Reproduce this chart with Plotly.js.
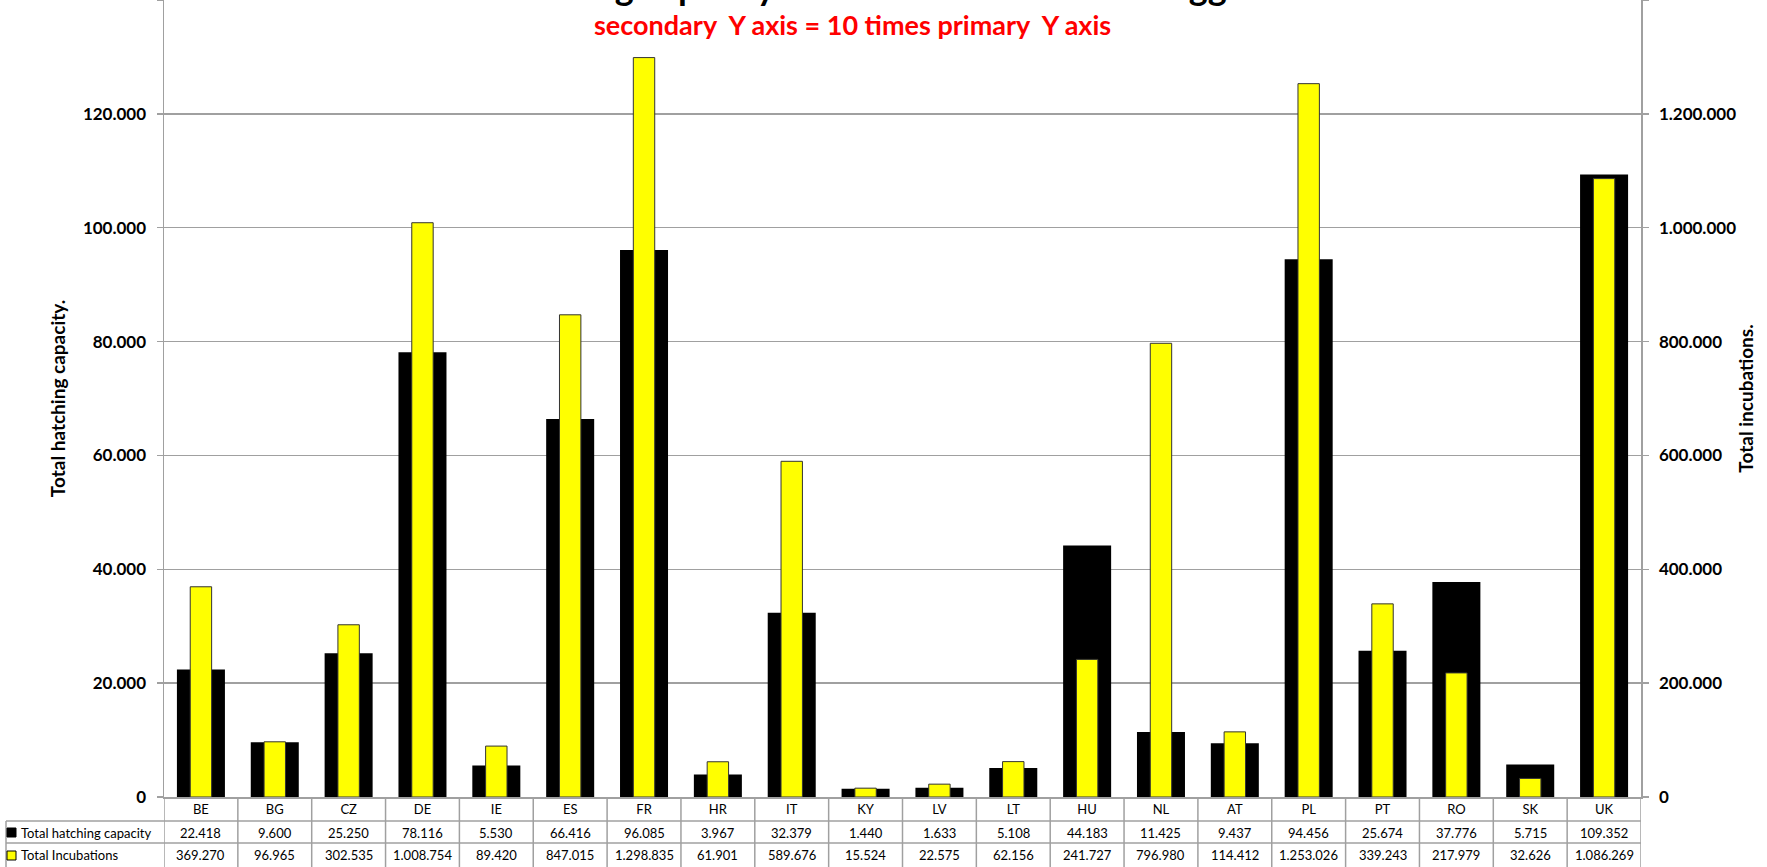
<!DOCTYPE html>
<html><head><meta charset="utf-8">
<script src="https://cdn.plot.ly/plotly-3.0.1.min.js"></script>
<style>html,body{margin:0;padding:0;background:#fff}#chart{width:1767px;height:867px}</style>
</head><body><div id="chart"></div>
<script>
const countries = ['BE','BG','CZ','DE','IE','ES','FR','HR','IT','KY','LV','LT','HU','NL','AT','PL','PT','RO','SK','UK'];
const hatchingCapacity = [22418,9600,25250,78116,5530,66416,96085,3967,32379,1440,1633,5108,44183,11425,9437,94456,25674,37776,5715,109352];
const totalIncubations = [369270,96965,302535,1008754,89420,847015,1298835,61901,589676,15524,22575,62156,241727,796980,114412,1253026,339243,217979,32626,1086269];
const seriesNames = ['Total hatching capacity','Total Incubations'];
const titleText = 'Hatching capacity and total incubations of eggs';
const subtitleText = 'secondary  Y axis = 10 times primary  Y axis';
const yTitle = 'Total hatching capacity.';
const y2Title = 'Total incubations.';

const W = 1767, H = 867, L = 164, R = 126, T = 0, B = 70;
const plotW = W - L - R, plotH = H - T - B;
const xp = px => (px - L) / plotW;
const yp = py => (T + plotH - py) / plotH;
const fmt = n => String(n).replace(/\B(?=(\d{3})+(?!\d))/g, '.');
const FONT = 'Lato, "Open Sans", sans-serif';
const GRID = '#a0a0a0';

const traces = [
  {type:'bar', name:seriesNames[0], x:countries, y:hatchingCapacity, yaxis:'y',
   marker:{color:'#000000', line:{width:0}}, width:0.65, offset:-0.325, hoverinfo:'skip'},
  {type:'bar', name:seriesNames[1], x:countries, y:totalIncubations, yaxis:'y2',
   marker:{color:'#ffff00', line:{color:'#333333', width:1}}, width:0.29, offset:-0.145, hoverinfo:'skip'}
];

const shapes = [];
const line = (xref, x0, x1, y0, y1) => shapes.push({type:'line', xref, yref:'paper', x0, x1, y0, y1, line:{color:GRID, width:1.5}, layer:'above'});
line('paper', xp(6), 1, yp(821), yp(821));
line('paper', xp(6), 1, yp(843), yp(843));
line('paper', xp(6), xp(6), yp(821), yp(867));
for (let i = 0; i <= countries.length; i++) line('x', i - 0.5, i - 0.5, yp(797), yp(867));
shapes.push({type:'rect', xref:'paper', yref:'paper', x0:xp(7), x1:xp(16), y0:yp(837), y1:yp(828), fillcolor:'#000', line:{color:'#000', width:1}});
shapes.push({type:'rect', xref:'paper', yref:'paper', x0:xp(7), x1:xp(16), y0:yp(860), y1:yp(851), fillcolor:'#ffff00', line:{color:'#000', width:1}});

const annotations = [];
countries.forEach((c, i) => {
  annotations.push({xref:'x', yref:'paper', x:i, y:yp(832.5), text:fmt(hatchingCapacity[i]), showarrow:false, xanchor:'center', yanchor:'middle', font:{family:FONT, size:13, color:'#000'}});
  annotations.push({xref:'x', yref:'paper', x:i, y:yp(855.5), text:fmt(totalIncubations[i]), showarrow:false, xanchor:'center', yanchor:'middle', font:{family:FONT, size:13, color:'#000'}});
});
annotations.push({xref:'paper', yref:'paper', x:xp(19), y:yp(832.5), text:seriesNames[0], showarrow:false, xanchor:'left', yanchor:'middle', font:{family:FONT, size:13, color:'#000'}});
annotations.push({xref:'paper', yref:'paper', x:xp(19), y:yp(855.5), text:seriesNames[1], showarrow:false, xanchor:'left', yanchor:'middle', font:{family:FONT, size:13, color:'#000'}});
annotations.push({xref:'paper', yref:'paper', x:xp(852), y:yp(25), text:subtitleText, showarrow:false, xanchor:'center', yanchor:'middle', font:{family:FONT, size:27, color:'#ff0000', weight:'bold'}});

const axisCommon = {showline:true, linecolor:GRID, linewidth:1.5, ticks:'outside', ticklen:6, tickcolor:GRID, tickwidth:1.5,
  ticklabelstandoff:7, tickformat:',d', zeroline:false, tickfont:{family:FONT, size:17, color:'#000', weight:'bold'}};

const layout = {
  width:W, height:H, margin:{l:L, r:R, t:T, b:B, pad:0},
  paper_bgcolor:'#fff', plot_bgcolor:'#fff', separators:',.',
  showlegend:false, barmode:'overlay',
  title:{text:titleText, x:0.49, xanchor:'center', y:1.002, yanchor:'bottom', font:{family:FONT, size:36, color:'#000', weight:'bold'}},
  xaxis:{type:'category', range:[-0.5, countries.length - 0.5], showline:true, linecolor:GRID, linewidth:1.5, ticks:'', showgrid:false,
    tickfont:{family:FONT, size:13, color:'#000'}, fixedrange:true},
  yaxis:Object.assign({}, axisCommon, {range:[0,140000], dtick:20000, showgrid:true, gridcolor:GRID, gridwidth:1.5,
    title:{text:yTitle, standoff:12, font:{family:FONT, size:19, color:'#000', weight:'bold'}}}),
  yaxis2:Object.assign({}, axisCommon, {range:[0,1400000], dtick:200000, overlaying:'y', side:'right', showgrid:false,
    title:{text:y2Title, standoff:4, font:{family:FONT, size:19, color:'#000', weight:'bold'}}}),
  shapes, annotations
};

Plotly.newPlot('chart', traces, layout, {staticPlot:true, displayModeBar:false});
</script>
</body></html>
